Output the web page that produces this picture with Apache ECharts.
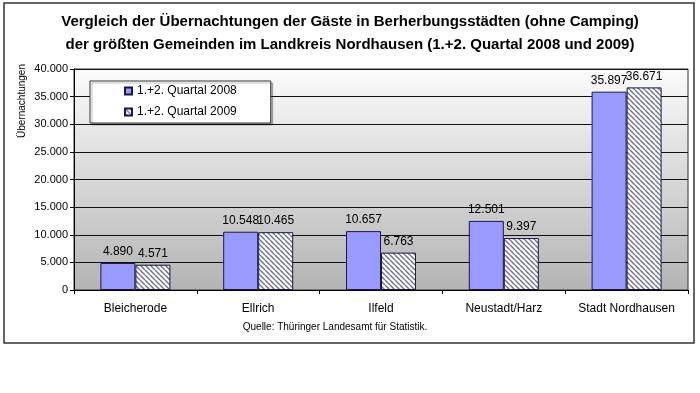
<!DOCTYPE html>
<html>
<head>
<meta charset="utf-8">
<script src="https://cdn.jsdelivr.net/npm/echarts@6/dist/echarts.min.js"></script>
<style>
html,body{margin:0;padding:0;background:#fff;}
#chart{width:700px;height:393px;}
</style>
</head>
<body>
<div id="chart"></div>
<script>
var titleLines = ['Vergleich der Übernachtungen der Gäste in Berherbungsstädten (ohne Camping)', 'der größten Gemeinden im Landkreis Nordhausen (1.+2. Quartal 2008 und 2009)'];
var categories = ['Bleicherode', 'Ellrich', 'Ilfeld', 'Neustadt/Harz', 'Stadt Nordhausen'];
var seriesNames = ['1.+2. Quartal 2008', '1.+2. Quartal 2009'];
var values2008 = [4890, 10548, 10657, 12501, 35897];
var values2009 = [4571, 10465, 6763, 9397, 36671];
var yAxisName = 'Übernachtungen';
var sourceText = 'Quelle: Thüringer Landesamt für Statistik.';

function fmt(v){ return String(v).replace(/\B(?=(\d{3})+(?!\d))/g, '.'); }

// hatch pattern
var p = 5;
var cv = document.createElement('canvas');
cv.width = p; cv.height = p;
var ctx = cv.getContext('2d');
ctx.fillStyle = '#ffffff';
ctx.fillRect(0,0,p,p);
ctx.strokeStyle = '#6e6e9c';
ctx.lineWidth = 1.4;
[-p, 0, p].forEach(function(x0){
  ctx.beginPath(); ctx.moveTo(x0, 0); ctx.lineTo(x0 + p, p); ctx.stroke();
});

var font = 'Liberation Sans, Arial, sans-serif';
var titleStyle = {fontSize: 15, fontWeight: 'bold', color: '#000', fontFamily: font};
var chart = echarts.init(document.getElementById('chart'), null, {renderer:'canvas'});
chart.setOption({
  animation: false,
  textStyle: {fontFamily: font},
  title: [
    {text: titleLines[0], left: 'center', top: 9, textStyle: titleStyle},
    {text: titleLines[1], left: 'center', top: 32, textStyle: titleStyle}
  ],
  legend: {
    orient: 'vertical', left: 90, top: 81,
    backgroundColor: '#fff', borderColor: '#333', borderWidth: 1,
    padding: [4, 34, 5, 34], itemGap: 9,
    itemWidth: 7, itemHeight: 7,
    shadowColor: 'rgba(0,0,0,0.25)', shadowOffsetX: 2, shadowOffsetY: 2, shadowBlur: 0,
    textStyle: {fontSize: 12, color: '#000', fontFamily: font},
    data: [{name: seriesNames[0], icon: 'rect'}, {name: seriesNames[1], icon: 'rect'}]
  },
  grid: {
    left: 74, right: 12, top: 69, bottom: 103,
    show: true, borderColor: '#333', borderWidth: 1,
    backgroundColor: {type:'linear', x:0, y:0, x2:0, y2:1, colorStops:[{offset:0,color:'#fbfbfb'},{offset:1,color:'#b4b4b4'}]}
  },
  xAxis: {
    type: 'category', data: categories,
    axisLine: {lineStyle: {color: '#000', width: 1}},
    axisTick: {show: true, length: 4, lineStyle: {color: '#000'}},
    axisLabel: {interval: 0, fontSize: 12, color: '#000', margin: 13, fontFamily: font}
  },
  yAxis: {
    type: 'value', min: 0, max: 40000, interval: 5000,
    axisLine: {show: true, lineStyle: {color: '#000', width: 1}},
    axisTick: {show: true, length: 4, lineStyle: {color: '#000'}},
    splitLine: {lineStyle: {color: '#111', width: 1}},
    axisLabel: {fontSize: 11, color: '#000', margin: 6, formatter: fmt, fontFamily: font}
  },
  series: [
    {
      name: seriesNames[0], type: 'bar', data: values2008,
      barGap: '0%', barCategoryGap: '43%',
      itemStyle: {color: '#9999ff', borderColor: '#1a1a40', borderWidth: 1},
      label: {show: true, position: 'top', distance: 5, fontSize: 12, color: '#000', formatter: function(p){return fmt(p.value);}, fontFamily: font}
    },
    {
      name: seriesNames[1], type: 'bar', data: values2009,
      barGap: '0%', barCategoryGap: '43%',
      itemStyle: {color: {image: cv, repeat: 'repeat'}, borderColor: '#1a1a40', borderWidth: 1},
      label: {show: true, position: 'top', distance: 5, fontSize: 12, color: '#000', formatter: function(p){return fmt(p.value);}, fontFamily: font}
    }
  ],
  graphic: [
    {type: 'rect', z: -10, shape: {x: 4, y: 3, width: 690, height: 340}, style: {fill: 'none', stroke: '#333', lineWidth: 1.5}},
    {type: 'text', x: 22, y: 101, rotation: Math.PI/2, style: {text: yAxisName, fontSize: 10, fill: '#000', align: 'center', verticalAlign: 'middle', fontFamily: font}},
    {type: 'text', x: 335, y: 327, style: {text: sourceText, fontSize: 10, fill: '#000', align: 'center', verticalAlign: 'middle', fontFamily: font}}
  ]
});
</script>
</body>
</html>
